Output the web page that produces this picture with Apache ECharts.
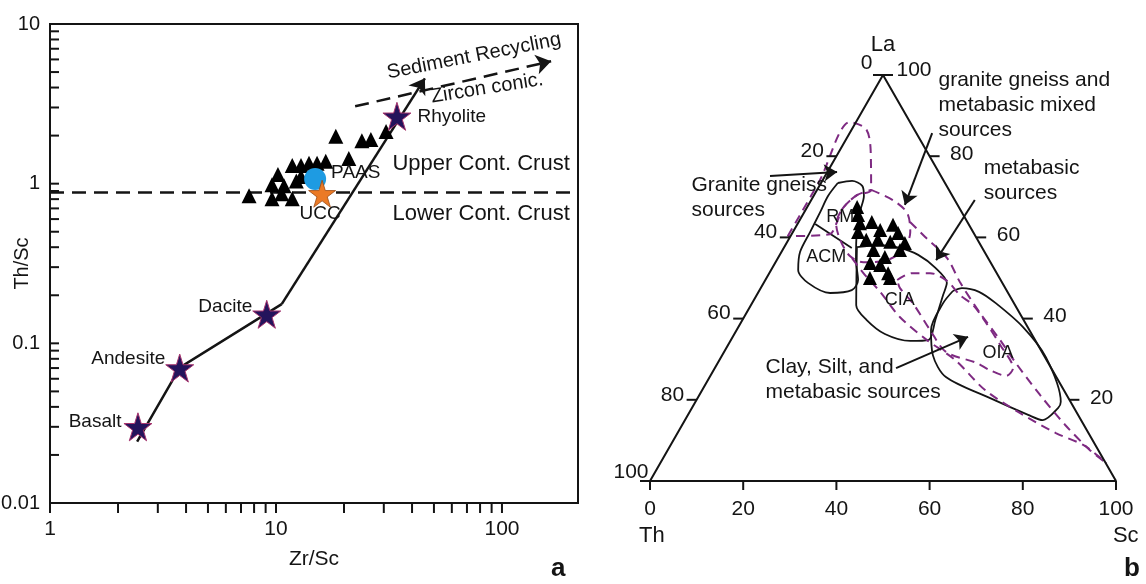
<!DOCTYPE html>
<html><head><meta charset="utf-8">
<script src="https://cdn.jsdelivr.net/npm/echarts@6/dist/echarts.min.js"></script>
<style>html,body{margin:0;padding:0;background:#fff}#c{width:1146px;height:584px}</style>
</head><body><div id="c"></div>
<script>
// ================= Panel a : Zr/Sc vs Th/Sc (log-log) =================
const sampleZrSc = [7.6, 9.6, 9.6, 10.85, 10.6, 11.8, 11.8, 12.9, 14.0, 15.2, 16.6, 21.0, 12.9, 12.3, 10.2, 18.4, 24.0, 26.3, 30.7];
const sampleThSc = [0.84, 0.985, 0.805, 0.971, 0.865, 0.805, 1.30, 1.30, 1.34, 1.34, 1.38, 1.44, 1.11, 1.04, 1.14, 1.98, 1.86, 1.89, 2.12];
const rockNames = ['Basalt', 'Andesite', 'Dacite', 'Rhyolite'];
const rockZrSc = [2.45, 3.75, 9.1, 34.3];
const rockThSc = [0.03, 0.07, 0.152, 2.64];
const paasPoint = [14.9, 1.07];
const uccPoint = [16.0, 0.865];
const trendZrSc = [2.43, 3.76, 10.6, 45.6];
const trendThSc = [0.0242, 0.0706, 0.176, 4.57];
const crustBoundaryThSc = 0.88;
const recyclingZrSc = [22.4, 165];
const recyclingThSc = [3.05, 5.85];
const xRange = [1, 217];
const yRange = [0.01, 10];
const xTickVals = [1, 2, 3, 4, 5, 6, 7, 8, 9, 10, 20, 30, 40, 50, 60, 70, 80, 90, 100];
const yTickVals = [0.01, 0.02, 0.03, 0.04, 0.05, 0.06, 0.07, 0.08, 0.09, 0.1, 0.2, 0.3, 0.4, 0.5, 0.6, 0.7, 0.8, 0.9, 1, 2, 3, 4, 5, 6, 7, 8, 9, 10];

// ================= Panel b : La-Th-Sc ternary ([La, Sc], Th = 100 - La - Sc) =================
const sampleLa = [67.5, 65.5, 63.5, 61.3, 63.8, 61.8, 63.1, 61.1, 59.4, 58.9, 56.9, 56.9, 53.7, 53.2, 51.2, 50.0, 50.0, 55.2, 59.4, 58.6];
const sampleSc = [10.7, 11.9, 13.3, 14.0, 15.7, 18.5, 20.6, 22.7, 19.2, 22.1, 25.2, 19.5, 20.4, 22.8, 25.5, 22.2, 26.5, 22.8, 16.7, 25.4];
const fieldRmAcm = [[73.4,3.6],[73.9,6.4],[72.7,9.2],[70.2,10.8],[66.7,11.8],[61.8,13.5],[54.4,17.0],[49.5,19.9],[47.0,19.8],[46.3,15.5],[48.8,9.5],[52.0,5.8],[56.4,4.0],[61.3,3.7],[66.3,3.4],[70.2,3.1],[73.4,3.6]];
const rmAcmDivider = [[63.3,3.8],[57.4,14.6]];
const fieldCia = [[57.6,15.6],[43.3,22.6],[39.7,26.6],[36.2,32.3],[34.5,38.6],[34.7,42.4],[39.7,41.4],[45.8,40.0],[48.8,39.3],[52.5,35.0],[55.7,29.7],[57.4,24.9],[58.1,20.4],[57.6,15.6]];
const fieldOia = [[46.8,41.6],[47.5,43.2],[46.6,47.3],[43.8,52.3],[37.9,61.1],[30.5,69.7],[19.5,78.4],[18.0,78.6],[15.0,76.8],[16.3,73.0],[20.4,62.8],[25.6,50.7],[31.0,45.2],[37.2,41.7],[43.8,41.0],[46.8,41.6]];
const srcGraniteGneiss = [[60.3,-0.6],[74.1,-0.6],[88.4,-1.3],[86.7,3.0],[81.5,6.6],[71.7,11.6],[70.4,9.2],[67.2,7.8],[63.3,8.3],[60.8,8.2],[60.3,-0.6]];
const srcMixed = [[71.7,11.6],[69.2,17.5],[66.0,22.2],[61.3,25.2],[56.9,25.9],[54.4,23.7],[53.9,18.8],[55.4,15.2],[59.4,11.1],[63.3,8.3],[67.2,7.8],[70.4,9.2],[71.7,11.6]];
const srcMetabasicUpper = [[63.8,23.9],[60.1,29.0],[54.9,36.3],[49.0,42.0],[41.4,50.1],[34.7,57.8],[29.3,63.7],[21.2,73.1],[13.8,82.2],[7.6,90.6],[4.4,95.7]];
const srcMetabasicLower = [[54.9,15.9],[50.7,20.8],[46.6,26.1],[40.4,33.4],[34.7,42.1],[29.8,50.6],[22.4,60.7],[16.7,71.1],[11.8,81.2],[8.9,88.5],[5.7,93.8],[4.4,95.7]];
const srcClaySilt = [[49.5,28.3],[51.2,30.6],[51.2,34.5],[49.3,39.1],[45.8,43.6],[43.3,47.7],[38.9,52.7],[33.5,58.4],[27.8,64.0],[25.9,63.5],[27.3,59.3],[29.1,55.5],[31.8,47.6],[37.2,41.5],[43.8,34.5],[47.5,29.9],[49.5,28.3]];
const arrowGranite = [[75.1,-11.8],[76.1,2.1]];
const arrowMixed = [[85.7,17.7],[68.0,20.7]];
const arrowMetabasic = [[69.2,35.1],[54.4,34.2]];
const arrowClay = [[27.8,38.9],[35.5,50.5]];
const ternTicks = [0, 20, 40, 60, 80, 100];

const FONT = 'Liberation Sans, Arial, sans-serif';
const INK = '#141414';
const PURPLE = '#7E2A82';
const starPath = 'path://M50,2 L61.2,36.6 L97.6,36.6 L68.2,58 L79.4,92.6 L50,71.2 L20.6,92.6 L31.8,58 L2.4,36.6 L38.8,36.6 Z';

function tern(la, sc) { return [sc + la / 2, la]; }
function isPow10(v) { const l = Math.log10(v); return Math.abs(l - Math.round(l)) < 1e-6; }
function zip(a, b) { return a.map((v, i) => [v, b[i]]); }

function textSeries(gi, items) {
  return {
    type: 'scatter', xAxisIndex: gi, yAxisIndex: gi, silent: true, clip: false, z: 20,
    symbol: 'circle', symbolSize: 1, itemStyle: { color: 'rgba(0,0,0,0)', opacity: 1 },
    data: items.map(o => ({
      value: o.p,
      label: {
        show: true, formatter: o.t, position: o.pos || 'inside', distance: o.d || 0,
        rotate: o.r || 0, fontSize: o.fs || 20, fontFamily: FONT, color: INK,
        lineHeight: o.lh || 25, offset: o.off || [0, 0], fontWeight: o.fw || 'normal'
      }
    }))
  };
}
function tickSeries(gi, pts, size, offset) {
  return { type: 'scatter', xAxisIndex: gi, yAxisIndex: gi, silent: true, clip: false, z: 6,
    symbol: 'rect', symbolSize: size, symbolOffset: offset, itemStyle: { color: INK, opacity: 1 }, data: pts };
}
function fieldSeries(pts, dashed) {
  return { type: 'line', xAxisIndex: 1, yAxisIndex: 1, silent: true, clip: false, z: 4,
    data: pts.map(p => tern(p[0], p[1])), smooth: 0.3, symbol: 'none',
    lineStyle: dashed ? { color: PURPLE, width: 2, type: [9, 6] } : { color: INK, width: 1.8 } };
}
function segSeries(gi, coords, dashed, width, arrowSize) {
  return { type: 'lines', coordinateSystem: 'cartesian2d', xAxisIndex: gi, yAxisIndex: gi, silent: true, clip: false, z: 5,
    polyline: coords.length > 2, symbol: arrowSize ? ['none', 'arrow'] : ['none', 'none'], symbolSize: arrowSize || 0,
    lineStyle: { color: INK, width: width, type: dashed ? [14, 8] : 'solid', opacity: 1 },
    data: [{ coords: coords }] };
}

const series = [];
// ---- panel a ----
series.push(tickSeries(0, xTickVals.map(v => [v, yRange[0]]), [2, 10], [0, 5]));
series.push(tickSeries(0, yTickVals.map(v => [xRange[0], v]), [9, 2], [4.5, 0]));
series.push(segSeries(0, [[xRange[0], crustBoundaryThSc], [xRange[1], crustBoundaryThSc]], true, 2.5, 0));
const trendPts = zip(trendZrSc, trendThSc);
series.push(segSeries(0, trendPts.slice(0, trendPts.length - 1), false, 2.5, 0));
series.push(segSeries(0, trendPts.slice(trendPts.length - 2), false, 2.5, 15));
series.push(segSeries(0, zip(recyclingZrSc, recyclingThSc), true, 2.5, 15));
series.push({ type: 'scatter', xAxisIndex: 0, yAxisIndex: 0, silent: true, z: 7, symbol: 'triangle', symbolSize: 15,
  itemStyle: { color: '#000', opacity: 1 }, data: zip(sampleZrSc, sampleThSc) });
const rockLabelCfg = { Basalt: ['left', 2, [0, -5]], Andesite: ['left', 0, [0, -9]], Dacite: ['left', 0, [0, -8]], Rhyolite: ['right', 6, [0, 0]] };
series.push({ type: 'scatter', xAxisIndex: 0, yAxisIndex: 0, silent: true, z: 8, symbol: starPath, symbolSize: 28,
  itemStyle: { color: '#24145C', borderColor: '#A8356E', borderWidth: 1, opacity: 1 },
  data: rockNames.map((n, i) => ({ name: n, value: [rockZrSc[i], rockThSc[i]],
    label: { show: true, formatter: n, position: rockLabelCfg[n][0], distance: rockLabelCfg[n][1], offset: rockLabelCfg[n][2],
      fontSize: 19, fontFamily: FONT, color: INK } })) });
series.push({ type: 'scatter', xAxisIndex: 0, yAxisIndex: 0, silent: true, z: 9, symbol: 'circle', symbolSize: 22,
  itemStyle: { color: '#1E9BE2', opacity: 1 },
  data: [{ name: 'PAAS', value: paasPoint, label: { show: true, formatter: 'PAAS', position: 'right', distance: 5, offset: [0, -6], fontSize: 19, fontFamily: FONT, color: INK } }] });
series.push({ type: 'scatter', xAxisIndex: 0, yAxisIndex: 0, silent: true, z: 9, symbol: starPath, symbolSize: 27,
  itemStyle: { color: '#EB7A26', borderColor: '#9A4A14', borderWidth: 0.8, opacity: 1 },
  data: [{ name: 'UCC', value: uccPoint, label: { show: true, formatter: 'UCC', position: 'bottom', distance: -3, offset: [-2, 0], fontSize: 19, fontFamily: FONT, color: INK } }] });
series.push(textSeries(0, [
  { t: 'Upper Cont. Crust', p: [32.6, 1.336], pos: 'right', fs: 22 },
  { t: 'Lower Cont. Crust', p: [32.6, 0.648], pos: 'right', fs: 22 },
  { t: 'Sediment Recycling', p: [75.2, 6.29], r: 11, fs: 20 },
  { t: 'Zircon conic.', p: [85.9, 3.96], r: 9, fs: 20 }
]));

// ---- panel b ----
series.push({ type: 'line', xAxisIndex: 1, yAxisIndex: 1, silent: true, clip: false, z: 5, symbol: 'none',
  lineStyle: { color: INK, width: 2 }, data: [tern(0, 0), tern(0, 100), tern(100, 0), tern(0, 0)] });
series.push(tickSeries(1, ternTicks.map(s => tern(0, s)), [2, 9], [0, 4.5]));
series.push(tickSeries(1, ternTicks.map(t => tern(100 - t, 0)), [10, 2], [-5, 0]));
series.push(tickSeries(1, ternTicks.filter(l => l > 0).map(l => tern(l, 100 - l)), [10, 2], [5, 0]));
const lblBase = { show: true, fontSize: 21, fontFamily: FONT, color: INK };
const hidden = { color: 'rgba(0,0,0,0)', opacity: 1 };
series.push({ type: 'scatter', xAxisIndex: 1, yAxisIndex: 1, silent: true, clip: false, symbol: 'circle', symbolSize: 1, itemStyle: hidden,
  data: ternTicks.map(s => ({ value: tern(0, s), label: Object.assign({}, lblBase, { formatter: String(s), position: 'bottom', distance: 17 }) })) });
series.push({ type: 'scatter', xAxisIndex: 1, yAxisIndex: 1, silent: true, clip: false, symbol: 'circle', symbolSize: 1, itemStyle: hidden,
  data: ternTicks.map(t => ({ value: tern(100 - t, 0), label: Object.assign({}, lblBase, { formatter: String(t), position: 'left',
    distance: t === 0 ? 10 : (t === 100 ? 1 : 12), offset: t === 0 ? [0, -12] : (t === 100 ? [0, -9] : [0, -5]) }) })) });
series.push({ type: 'scatter', xAxisIndex: 1, yAxisIndex: 1, silent: true, clip: false, symbol: 'circle', symbolSize: 1, itemStyle: hidden,
  data: ternTicks.filter(l => l > 0).map(l => ({ value: tern(l, 100 - l), label: Object.assign({}, lblBase, { formatter: String(l), position: 'right',
    distance: l === 100 ? 13 : 20, offset: l === 100 ? [0, -5] : [0, -2] }) })) });
series.push(fieldSeries(fieldRmAcm, false));
series.push(fieldSeries(rmAcmDivider, false));
series.push(fieldSeries(fieldCia, false));
series.push(fieldSeries(fieldOia, false));
series.push(fieldSeries(srcGraniteGneiss, true));
series.push(fieldSeries(srcMixed, true));
series.push(fieldSeries(srcMetabasicUpper, true));
series.push(fieldSeries(srcMetabasicLower, true));
series.push(fieldSeries(srcClaySilt, true));
[arrowGranite, arrowMixed, arrowMetabasic, arrowClay].forEach(a =>
  series.push(segSeries(1, a.map(p => tern(p[0], p[1])), false, 2, 13)));
series.push({ type: 'scatter', xAxisIndex: 1, yAxisIndex: 1, silent: true, z: 7, symbol: 'triangle', symbolSize: 14,
  itemStyle: { color: '#000', opacity: 1 }, data: sampleLa.map((la, i) => tern(la, sampleSc[i])) });
series.push(textSeries(1, [
  { t: 'La', p: [50.0, 107.4], fs: 22 },
  { t: 'granite gneiss and\nmetabasic mixed\nsources', p: [61.8, 92.6], pos: 'right', fs: 21 },
  { t: 'metabasic\nsources', p: [71.5, 74.0], pos: 'right', fs: 21 },
  { t: 'Granite gneiss\nsources', p: [8.8, 69.8], pos: 'right', fs: 21 },
  { t: 'RM', p: [40.8, 65.0], fs: 18 },
  { t: 'ACM', p: [37.8, 55.2], fs: 18 },
  { t: 'CIA', p: [53.6, 44.6], fs: 18 },
  { t: 'OIA', p: [74.7, 31.5], fs: 18 },
  { t: 'Clay, Silt, and\nmetabasic sources', p: [24.7, 25.0], pos: 'right', fs: 21 },
  { t: 'Th', p: [0.4, -13.5], fs: 22 },
  { t: 'Sc', p: [102.1, -13.5], fs: 22 }
]));

const option = {
  animation: false,
  backgroundColor: '#fff',
  grid: [
    { left: 50, top: 24, width: 528, height: 479, show: true, borderColor: INK, borderWidth: 2, backgroundColor: 'transparent', containLabel: false, outerBoundsMode: 'none' },
    { left: 650, top: 75, width: 466, height: 406, show: false, containLabel: false, outerBoundsMode: 'none' }
  ],
  xAxis: [
    { gridIndex: 0, type: 'log', logBase: 10, min: xRange[0], max: xRange[1],
      name: 'Zr/Sc', nameLocation: 'middle', nameGap: 46, nameMoveOverlap: false, nameTextStyle: { fontSize: 21, fontFamily: FONT, color: INK },
      axisLine: { lineStyle: { color: INK, width: 2 } }, axisTick: { show: false }, splitLine: { show: false },
      axisLabel: { margin: 16, fontSize: 21, fontFamily: FONT, color: INK, formatter: v => isPow10(v) ? String(Math.round(v)) : '' } },
    { gridIndex: 1, type: 'value', min: 0, max: 100, show: false }
  ],
  yAxis: [
    { gridIndex: 0, type: 'log', logBase: 10, min: yRange[0], max: yRange[1],
      name: 'Th/Sc', nameLocation: 'middle', nameGap: 18, nameMoveOverlap: false, nameTextStyle: { fontSize: 20, fontFamily: FONT, color: INK },
      axisLine: { lineStyle: { color: INK, width: 2 } }, axisTick: { show: false }, splitLine: { show: false },
      axisLabel: { margin: 10, fontSize: 20, fontFamily: FONT, color: INK,
        formatter: v => isPow10(v) ? (v >= 1 ? String(Math.round(v)) : v.toFixed(-Math.round(Math.log10(v)))) : '' } },
    { gridIndex: 1, type: 'value', min: 0, max: 100, show: false }
  ],
  graphic: [
    { type: 'text', left: 551, top: 556, style: { text: 'a', font: 'bold 26px ' + FONT, fill: INK } },
    { type: 'text', left: 1124, top: 556, style: { text: 'b', font: 'bold 26px ' + FONT, fill: INK } }
  ],
  series: series
};
const chart = echarts.init(document.getElementById('c'));
chart.setOption(option);
</script></body></html>
